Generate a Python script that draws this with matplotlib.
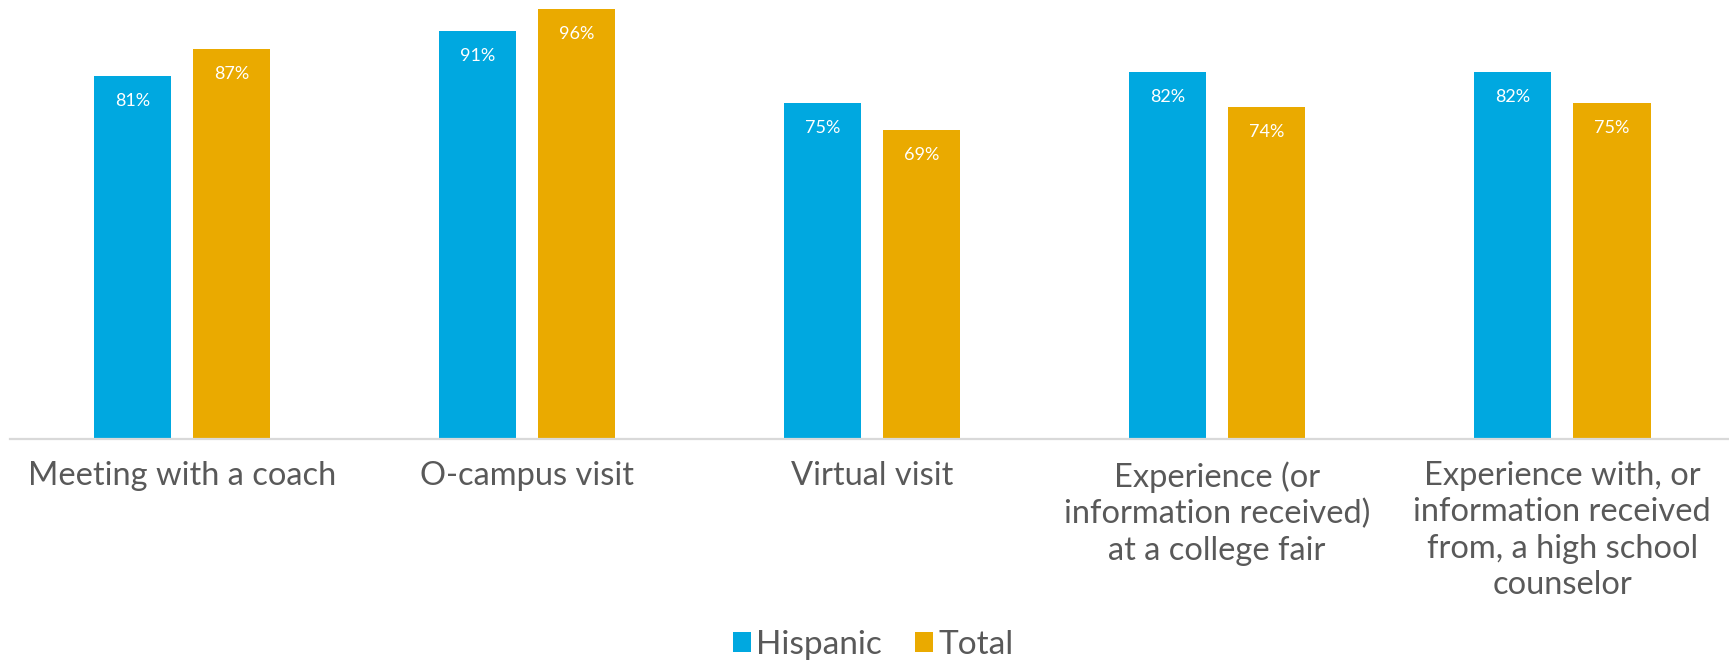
import matplotlib
matplotlib.use("Agg")
import matplotlib.pyplot as plt
import numpy as np

categories = [
    "Meeting with a coach",
    "O-campus visit",
    "Virtual visit",
    "Experience (or\ninformation received)\nat a college fair",
    "Experience with, or\ninformation received\nfrom, a high school\ncounselor",
]
hispanic = [81, 91, 75, 82, 82]
total = [87, 96, 69, 74, 75]
series_names = ["Hispanic", "Total"]

BLUE = "#00A8E0"
GOLD = "#EAAA00"
TEXT = "#595959"

plt.rcParams["font.family"] = ["Lato", "DejaVu Sans"]

fig = plt.figure(figsize=(17.29, 6.62), dpi=100)
ax = fig.add_axes([0.0055, 0.337, 0.9978, 0.663])

x = np.arange(len(categories))
width = 0.224
offset = 0.144

bars_h = ax.bar(x - offset, hispanic, width, color=BLUE, label=series_names[0])
bars_t = ax.bar(x + offset, total, width, color=GOLD, label=series_names[1])

for bars, vals in ((bars_h, hispanic), (bars_t, total)):
    for b, v in zip(bars, vals):
        ax.annotate(f"{v}%", xy=(b.get_x() + b.get_width() / 2, v),
                    xytext=(0, -25), textcoords="offset pixels",
                    ha="center", va="center", color="white", fontsize=13)

ax.set_xlim(-0.5, len(categories) - 0.5)
ax.set_ylim(0, 98)
ax.set_yticks([])
for side in ("top", "right", "left"):
    ax.spines[side].set_visible(False)
ax.spines["bottom"].set_color("#D9D9D9")
ax.spines["bottom"].set_linewidth(1.6)

ax.set_xticks(x)
ax.set_xticklabels(categories, fontsize=23.5, color=TEXT, linespacing=1.26)
ax.tick_params(axis="x", length=0, pad=16)

leg = fig.legend(handles=[bars_h, bars_t], labels=series_names,
                 loc="center", bbox_to_anchor=(0.505, 0.026), ncol=2,
                 frameon=False, fontsize=24, handlelength=0.55, handleheight=0.55,
                 handletextpad=0.15, columnspacing=1.0)
for t in leg.get_texts():
    t.set_color(TEXT)

fig.savefig("out.png", dpi=100)
